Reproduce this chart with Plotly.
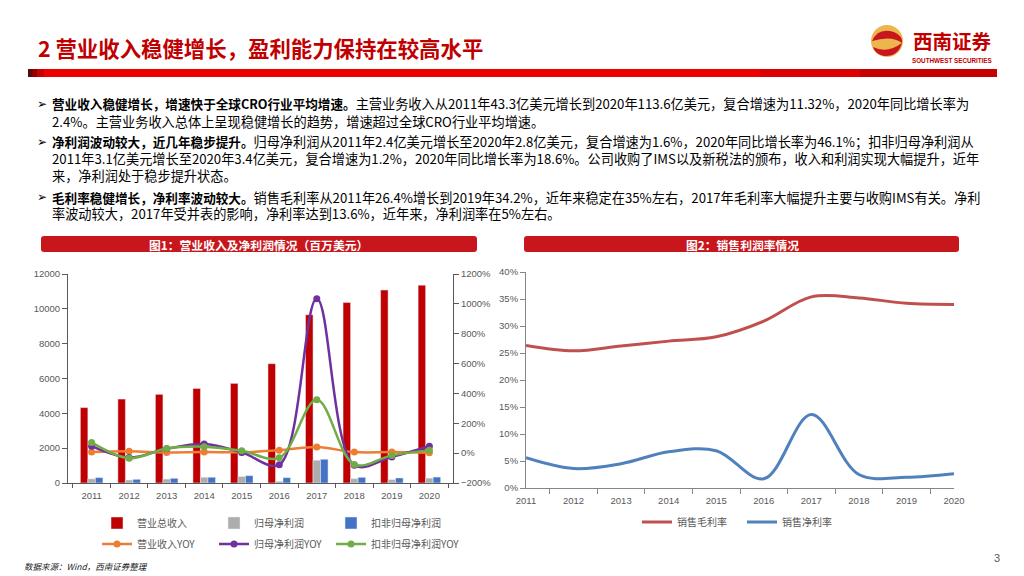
import plotly.graph_objects as go

# ---------------- data ----------------
years = ['2011', '2012', '2013', '2014', '2015', '2016', '2017', '2018', '2019', '2020']
revenue = [4330, 4820, 5090, 5430, 5720, 6850, 9660, 10370, 11080, 11360]
net_profit = [240, 170, 225, 330, 370, 100, 1306, 250, 192, 280]
net_profit_ded = [310, 211, 270, 330, 420, 307, 1363, 326, 288, 340]
revenue_yoy = [8, 12, 5, 7, 6, 20, 41, 7, 7, 2.4]
net_profit_yoy = [47, -29, 29, 61, 5, -77, 1035, -81, -25, 46.1]
net_profit_ded_yoy = [72, -34, 31, 43, 16, -31, 357, -76, -15, 18.6]
gross_margin = [26.4, 25.4, 26.3, 27.2, 28.0, 30.9, 35.4, 35.2, 34.2, 34.0]
net_margin = [5.6, 3.6, 4.5, 6.7, 6.9, 1.7, 13.6, 2.5, 2.0, 2.65]

W, H = 1024, 576
OFF = 8  # page body margin compensation
def px(x):
    return (x - OFF) / W
def py(y):
    return 1 - (y - OFF) / H

CJK = 'Noto Sans CJK SC'
TICKC = '#595959'

fig = go.Figure()

# ---- chart 1 bars (each bar series + its YOY line share a legend column) ----
bar_specs = [(revenue, '营业总收入', '#C00000', 'legend'),
             (net_profit, '归母净利润', '#ADADAD', 'legend2'),
             (net_profit_ded, '扣非归母净利润', '#4472C4', 'legend3')]
for vals, nm, col, lg in bar_specs:
    fig.add_trace(go.Bar(x=years, y=vals, name=nm, marker_color=col, legendgroup=nm,
                         xaxis='x', yaxis='y', legend=lg))
line_specs = [(revenue_yoy, '营业收入YOY', '#ED7D31', 'legend'),
              (net_profit_yoy, '归母净利润YOY', '#7030A0', 'legend2'),
              (net_profit_ded_yoy, '扣非归母净利润YOY', '#70AD47', 'legend3')]
for vals, nm, col, lg in line_specs:
    fig.add_trace(go.Scatter(x=years, y=vals, name=nm, mode='lines+markers', legendgroup=nm,
                             line=dict(shape='spline', color=col, width=2.5),
                             marker=dict(size=7, color=col),
                             xaxis='x', yaxis='y2', legend=lg))
# ---- chart 2 lines ----
fig.add_trace(go.Scatter(x=years, y=gross_margin, name='销售毛利率', mode='lines',
                         line=dict(shape='spline', color='#C0504D', width=3),
                         xaxis='x2', yaxis='y3', legend='legend4'))
fig.add_trace(go.Scatter(x=years, y=net_margin, name='销售净利率', mode='lines',
                         line=dict(shape='spline', color='#4F81BD', width=3),
                         xaxis='x2', yaxis='y3', legend='legend4'))

tickfont = dict(family='Liberation Sans, Arial', size=9.5, color=TICKC)
legfont = dict(family=CJK, size=10, color=TICKC)

def col_legend(xpix):
    return dict(orientation='v', x=px(xpix), y=py(533.5), xanchor='left', yanchor='middle',
                font=legfont, bgcolor='rgba(0,0,0,0)', traceorder='grouped', tracegroupgap=2)

fig.update_layout(
    width=W, height=H, margin=dict(l=0, r=0, t=0, b=0, pad=0, autoexpand=False),
    paper_bgcolor='white', plot_bgcolor='white',
    barmode='group', bargap=0.4, bargroupgap=0,
    xaxis=dict(domain=[px(68), px(453)], anchor='y', type='category', tickson='boundaries',
               ticks='outside', ticklen=4, tickcolor='#595959', showline=True, linecolor='#595959',
               linewidth=1, tickfont=tickfont, showgrid=False, automargin=False, ticklabelstandoff=4),
    yaxis=dict(domain=[py(483), py(274)], anchor='x', range=[0, 12000], dtick=2000, tickformat='d',
               showline=True, linecolor='#595959', ticks='outside', ticklen=5, tickcolor='#595959',
               showgrid=False, zeroline=False, tickfont=tickfont, automargin=False),
    yaxis2=dict(overlaying='y', side='right', anchor='x', range=[-200, 1200], dtick=200, tickformat='d',
                ticksuffix='%', showline=True, linecolor='#595959', ticks='outside', ticklen=5,
                tickcolor='#595959', showgrid=False, zeroline=False, tickfont=tickfont, automargin=False),
    xaxis2=dict(domain=[px(526), px(954)], anchor='y3', type='category', tickson='boundaries',
                ticks='outside', ticklen=5, tickcolor='#868686', showline=True, linecolor='#868686',
                tickfont=tickfont, showgrid=False, automargin=False, ticklabelstandoff=4),
    yaxis3=dict(domain=[py(488), py(272)], anchor='x2', range=[0, 40], dtick=5, ticksuffix='%',
                showline=True, linecolor='#868686', ticks='outside', ticklen=5, tickcolor='#868686',
                showgrid=False, zeroline=False, tickfont=tickfont, automargin=False),
    legend=col_legend(97),
    legend2=col_legend(214),
    legend3=col_legend(331),
    legend4=dict(orientation='h', x=px(637), y=py(522), xanchor='left', yanchor='middle',
                 entrywidth=60, entrywidthmode='pixels', font=legfont, bgcolor='rgba(0,0,0,0)',
                 traceorder='normal'),
    showlegend=True,
)

shapes = []
annotations = []

def ann(text, x, y, size, color, family=CJK, xanchor='left', yanchor='middle'):
    annotations.append(dict(text=text, x=px(x), y=py(y), xref='paper', yref='paper',
                            xanchor=xanchor, yanchor=yanchor, showarrow=False,
                            font=dict(family=family, size=size, color=color)))

# header red bar
def rect(x0, x1, y0, y1, color):
    shapes.append(dict(type='rect', xref='paper', yref='paper', x0=px(x0), x1=px(x1), y0=py(y1), y1=py(y0),
                       fillcolor=color, line=dict(width=0), layer='below'))
rect(28, 997, 69, 77, '#EC0000')
rect(28, 32, 69, 77, '#5A0A0A')
rect(32, 37, 69, 77, '#900000')
rect(37, 44, 69, 77, '#C80000')
rect(760, 860, 69, 77, '#DC0000')
rect(860, 997, 69, 77, '#C40000')

# logo
cx, cy, r = 887, 41, 16
shapes.append(dict(type='circle', xref='paper', yref='paper', x0=px(cx - r), x1=px(cx + r),
                   y0=py(cy + r), y1=py(cy - r), fillcolor='#EDB54E', line=dict(width=0)))
def path(pts):
    s = ''
    for cmd, coords in pts:
        s += cmd + ' '.join('%.5f,%.5f' % (px(a), py(b)) for a, b in coords) + ' '
    return s + 'Z'
shapes.append(dict(type='path', xref='paper', yref='paper', fillcolor='#C8161D', line=dict(width=0),
                   path=path([('M', [(872, 41)]), ('Q', [(878, 27), (894, 32)]),
                              ('Q', [(903, 36), (902, 43)]), ('Q', [(892, 35), (872, 41)])])))
shapes.append(dict(type='path', xref='paper', yref='paper', fillcolor='#C8161D', line=dict(width=0),
                   path=path([('M', [(902, 43)]), ('Q', [(898, 57), (884, 56)]),
                              ('Q', [(875, 54), (873, 47)]), ('Q', [(887, 54), (902, 43)])])))
ann('<b>西南证券</b>', 952, 41, 19.5, '#C00000', xanchor='center')
ann('<b>SOUTHWEST SECURITIES</b>', 952, 61, 6.3, '#C00000', family='Liberation Sans, Arial', xanchor='center')

# title
ann('<b>2 营业收入稳健增长，盈利能力保持在较高水平</b>', 36, 48, 21.4, '#C00000')

# bullet text
B = '<span style="font-size:12.6px"><b>%s</b></span>'
lines = [
    (104, True, B % '营业收入稳健增长，增速快于全球CRO行业平均增速。' + '主营业务收入从2011年43.3亿美元增长到2020年113.6亿美元，复合增速为11.32%，2020年同比增长率为'),
    (121, False, '2.4%。主营业务收入总体上呈现稳健增长的趋势，增速超过全球CRO行业平均增速。'),
    (142, True, B % '净利润波动较大，近几年稳步提升。' + '归母净利润从2011年2.4亿美元增长至2020年2.8亿美元，复合增速为1.6%，2020年同比增长率为46.1%；扣非归母净利润从'),
    (158, False, '2011年3.1亿美元增长至2020年3.4亿美元，复合增速为1.2%，2020年同比增长率为18.6%。公司收购了IMS以及新税法的颁布，收入和利润实现大幅提升，近年'),
    (175, False, '来，净利润处于稳步提升状态。'),
    (197, True, B % '毛利率稳健增长，净利率波动较大。' + '销售毛利率从2011年26.4%增长到2019年34.2%，近年来稳定在35%左右，2017年毛利率大幅提升主要与收购IMS有关。净利'),
    (214, False, '率波动较大，2017年受并表的影响，净利率达到13.6%，近年来，净利润率在5%左右。'),
]
for y, bullet, txt in lines:
    if bullet:
        ann('➢', 35, y, 12, '#000000', family='DejaVu Sans')
    ann(txt, 50, y, 13.2, '#000000')

# chart title bars
def rrect(x0, y0, x1, y1, rad=3):
    rx, ry = rad / W, rad / H
    X0, X1, Y0, Y1 = px(x0), px(x1), py(y1), py(y0)
    return ('M %.5f,%.5f L %.5f,%.5f Q %.5f,%.5f %.5f,%.5f L %.5f,%.5f Q %.5f,%.5f %.5f,%.5f '
            'L %.5f,%.5f Q %.5f,%.5f %.5f,%.5f L %.5f,%.5f Q %.5f,%.5f %.5f,%.5f Z') % (
        X0 + rx, Y0, X1 - rx, Y0, X1, Y0, X1, Y0 + ry, X1, Y1 - ry, X1, Y1, X1 - rx, Y1,
        X0 + rx, Y1, X0, Y1, X0, Y1 - ry, X0, Y0 + ry, X0, Y0, X0 + rx, Y0)
for (x0, x1, label, tx) in [(41, 477, '图1：营业收入及净利润情况（百万美元）', 258),
                            (524, 959, '图2：销售利润率情况', 742)]:
    shapes.append(dict(type='path', xref='paper', yref='paper', path=rrect(x0, 236, x1, 252),
                       fillcolor='#C8161D', line=dict(width=0)))
    ann('<b>' + label + '</b>', tx, 244.5, 11.8, 'white', xanchor='center')

# footer
ann('<i>数据来源：Wind，西南证券整理</i>', 22, 566, 8.5, '#222222')
ann('3', 997, 558, 11, '#595959', family='Liberation Sans, Arial', xanchor='center')

fig.update_layout(shapes=shapes, annotations=annotations)
fig.write_html('out.html')
